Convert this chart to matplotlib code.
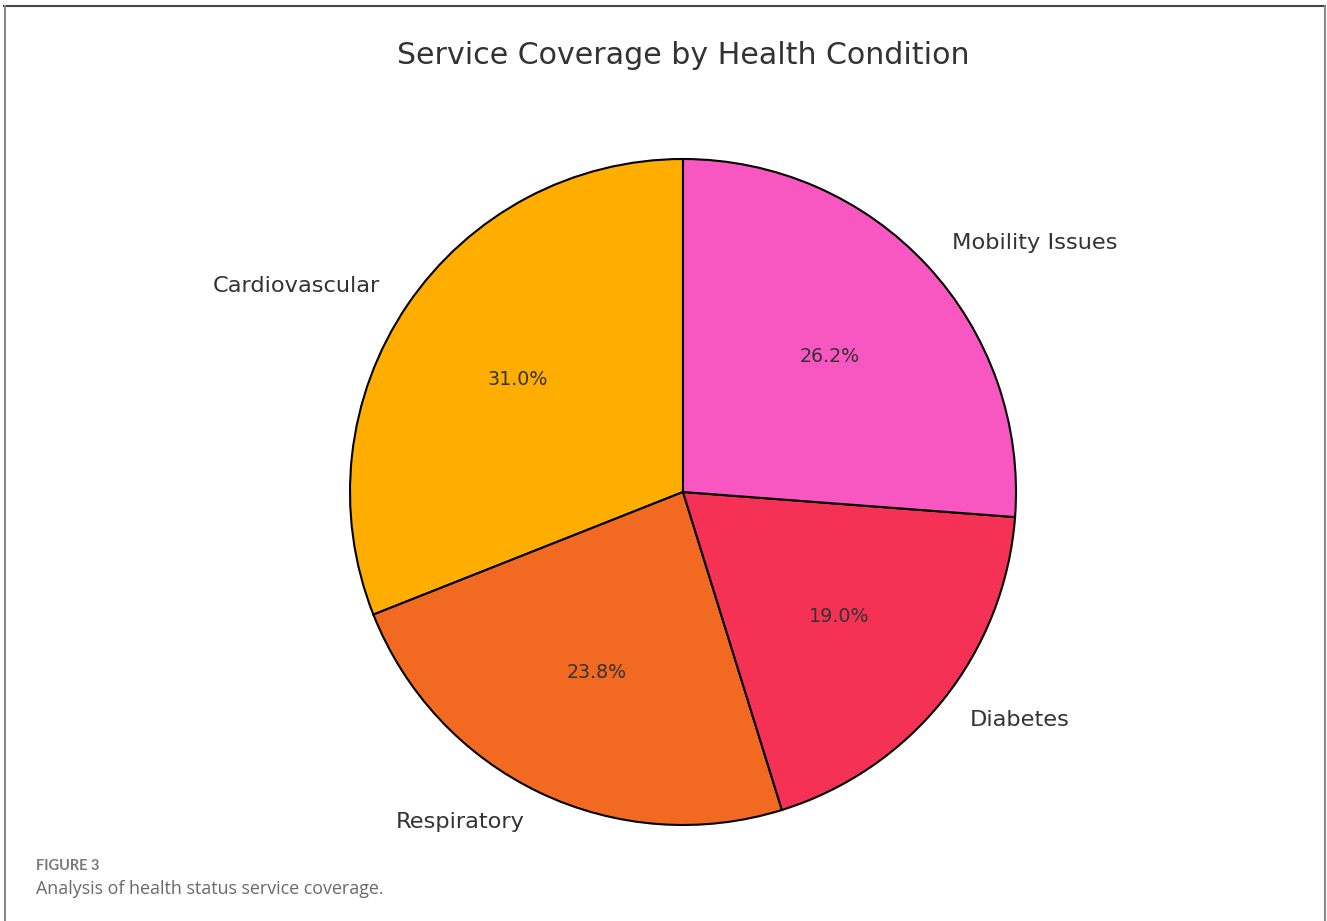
import matplotlib.pyplot as plt
from matplotlib.lines import Line2D

# Data
conditions = ['Cardiovascular', 'Respiratory', 'Diabetes', 'Mobility Issues']
coverage = [31.0, 23.8, 19.0, 26.2]
colors = ['#FFAE00', '#F26A21', '#F53255', '#F857C1']

W, H = 1327, 921
fig = plt.figure(figsize=(W / 100, H / 100), dpi=100)

# pie centred at (683, 492) px with radius ~333 px
r = 333
cx, cy = 683, 492
ax = fig.add_axes([(cx - r) / W, (H - cy - r) / H, 2 * r / W, 2 * r / H])
wedges, texts, autotexts = ax.pie(
    coverage, labels=conditions, colors=colors, autopct='%1.1f%%',
    startangle=90, counterclock=True, radius=1,
    wedgeprops={'edgecolor': 'black', 'linewidth': 1.5},
    textprops={'color': '#333333'})
for t in texts:
    t.set_fontsize(16.2)
for t in autotexts:
    t.set_fontsize(13.7)
    t.set_color('#333333')
ax.set_xlim(-1, 1)
ax.set_ylim(-1, 1)
ax.set_aspect('equal')
ax.axis('off')

fig.text(cx / W, 1 - 55 / H, 'Service Coverage by Health Condition',
         ha='center', va='center', fontsize=21.6, color='#333333')

# caption
fig.text(36 / W, 1 - 866 / H, 'FIGURE 3', ha='left', va='center',
         fontsize=10.5, color='#7a7a7a', family='Lato', fontweight='bold')
fig.text(36 / W, 1 - 889 / H, 'Analysis of health status service coverage.',
         ha='left', va='center', fontsize=12.9, color='#6a6a6a',
         family='Open Sans')

# frame around the figure
fig.add_artist(Line2D([4 / W, 1325 / W], [1 - 6.5 / H, 1 - 6.5 / H],
                      transform=fig.transFigure, color='#444444', lw=1.5))
fig.add_artist(Line2D([4.5 / W, 4.5 / W], [0, 1 - 6 / H],
                      transform=fig.transFigure, color='#888888', lw=1.5))
fig.add_artist(Line2D([1325 / W, 1325 / W], [0, 1 - 6 / H],
                      transform=fig.transFigure, color='#888888', lw=1.5))

fig.savefig('out.png', dpi=100, facecolor='white')
